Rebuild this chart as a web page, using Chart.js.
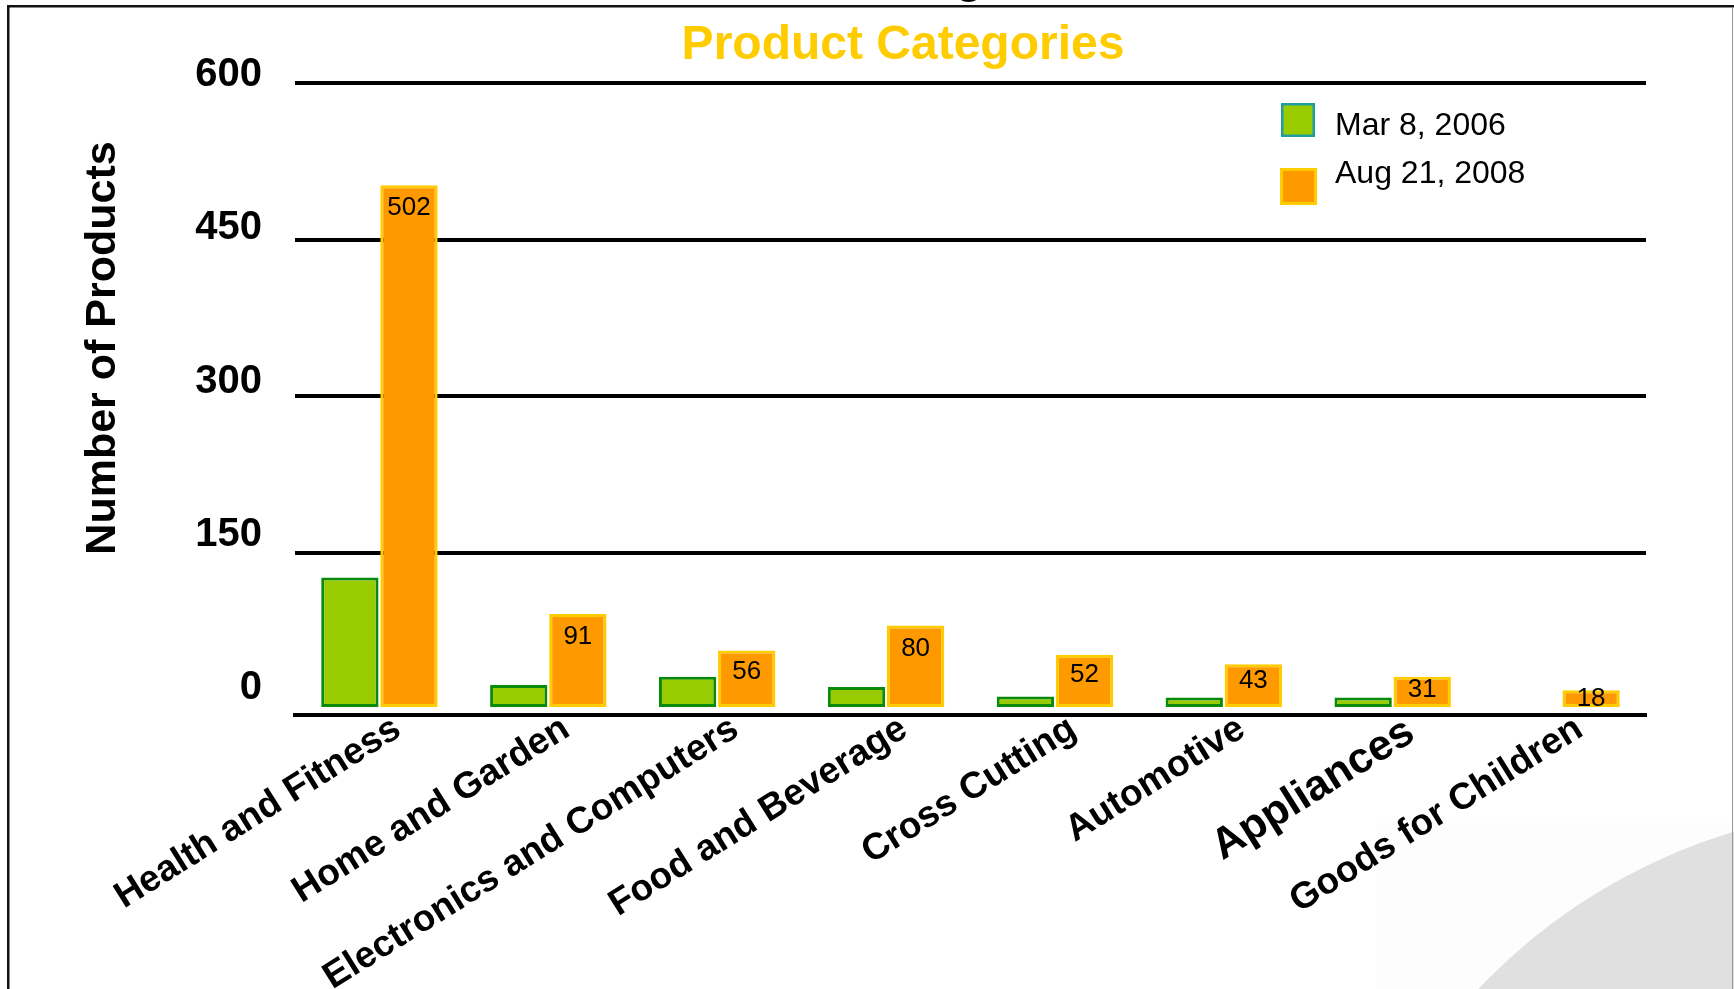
<!DOCTYPE html>
<html lang="en">
<head>
    <meta charset="UTF-8">
    <title>Product Categories</title>
    <script src="https://cdn.jsdelivr.net/npm/chart.js"></script>
    <style>
        html, body { margin: 0; padding: 0; background: #fff; }
        #chart { display: block; }
    </style>
</head>
<body>
    <canvas id="chart" width="1734" height="989"></canvas>

    <script>
        // data
        const categories = ['Health and Fitness', 'Home and Garden', 'Electronics and Computers',
            'Food and Beverage', 'Cross Cutting', 'Automotive', 'Appliances', 'Goods for Children'];
        const seriesLabels = ['Mar 8, 2006', 'Aug 21, 2008'];
        const mar2006 = [126, 23, 31, 21, 12, 11, 11, null];
        const aug2008 = [502, 91, 56, 80, 52, 43, 31, 18];
        const yTicks = [0, 150, 300, 450, 600];

        const chartTitle = 'Product Categories';
        const yTitle = 'Number of Products';

        const FONT = "'Liberation Sans', Arial, sans-serif";
        const legendBorders = ['#1E9E9E', '#FFCC00'];

        // slide background: frame, faint panel and the grey arc in the corner
        const backdrop = {
            id: 'backdrop',
            beforeDraw(chart) {
                const ctx = chart.ctx;
                const w = chart.width, h = chart.height;
                ctx.save();
                ctx.fillStyle = '#fff';
                ctx.fillRect(0, 0, w, h);
                ctx.fillStyle = '#fdfdfd';
                ctx.fillRect(1377, 823, w - 1377, h - 823);
                ctx.fillStyle = '#e0e0e0';
                ctx.beginPath();
                ctx.arc(1898, 1385, 577, 0, Math.PI * 2);
                ctx.fill();
                // frame
                ctx.fillStyle = '#111';
                ctx.fillRect(7, 5, w - 7, 2.5);
                ctx.fillRect(7, 5, 2.5, h - 5);
                ctx.fillStyle = '#999';
                ctx.fillRect(w - 2, 7, 1, h - 7);
                // tail of the slide heading cut off above
                ctx.fillStyle = '#000';
                ctx.font = 'bold 46px ' + FONT;
                ctx.textBaseline = 'alphabetic';
                ctx.fillText('g', 955, -8);
                ctx.restore();
            }
        };

        // chart heading and y axis title
        const titles = {
            id: 'titles',
            afterDraw(chart) {
                const ctx = chart.ctx;
                ctx.save();
                ctx.textAlign = 'center';
                ctx.textBaseline = 'alphabetic';
                ctx.fillStyle = '#FFCC00';
                ctx.font = 'bold 48px ' + FONT;
                ctx.fillText(chartTitle, 903, 59);
                ctx.translate(103, 348);
                ctx.rotate(-Math.PI / 2);
                ctx.textBaseline = 'middle';
                ctx.fillStyle = '#000';
                ctx.font = 'bold 43px ' + FONT;
                ctx.fillText(yTitle, 0, 0);
                ctx.restore();
            }
        };

        // values inside the top of the orange bars
        const barValues = {
            id: 'barValues',
            afterDatasetsDraw(chart) {
                const ctx = chart.ctx;
                const meta = chart.getDatasetMeta(1);
                ctx.save();
                ctx.font = '26px ' + FONT;
                ctx.fillStyle = '#000';
                ctx.textAlign = 'center';
                ctx.textBaseline = 'middle';
                meta.data.forEach((bar, i) => {
                    const v = chart.data.datasets[1].data[i];
                    if (v == null) return;
                    const h = bar.base - bar.y;
                    ctx.fillText(String(v), bar.x, bar.y + Math.min(23, 0.33 * h + 3));
                });
                ctx.restore();
            }
        };

        // legend in the upper right of the plot
        const boxLegend = {
            id: 'boxLegend',
            afterDraw(chart) {
                const ctx = chart.ctx;
                const boxes = [
                    { x: 1281, y: 103, s: 34, lw: 2.5, base: 135 },
                    { x: 1280, y: 168, s: 37, lw: 3, base: 183 }
                ];
                ctx.save();
                chart.data.datasets.forEach((ds, i) => {
                    const b = boxes[i];
                    ctx.fillStyle = legendBorders[i];
                    ctx.fillRect(b.x, b.y, b.s, b.s);
                    ctx.fillStyle = ds.backgroundColor;
                    ctx.fillRect(b.x + b.lw, b.y + b.lw, b.s - 2 * b.lw, b.s - 2 * b.lw);
                    ctx.fillStyle = '#000';
                    ctx.font = '32px ' + FONT;
                    ctx.textBaseline = 'alphabetic';
                    ctx.fillText(ds.label, 1335, b.base);
                });
                ctx.restore();
            }
        };

        const ctx = document.getElementById('chart').getContext('2d');
        new Chart(ctx, {
            type: 'bar',
            data: {
                labels: categories,
                datasets: [{
                    label: seriesLabels[0],
                    data: mar2006,
                    backgroundColor: '#99CC00',
                    borderColor: '#0A8A0A',
                    borderWidth: 3,
                    borderSkipped: false
                }, {
                    label: seriesLabels[1],
                    data: aug2008,
                    backgroundColor: '#FF9900',
                    borderColor: '#FFCC00',
                    borderWidth: 3,
                    borderSkipped: false
                }]
            },
            options: {
                responsive: false,
                animation: false,
                devicePixelRatio: 1,
                layout: { padding: { left: 0, right: 88, top: 83, bottom: 0 } },
                datasets: {
                    bar: { categoryPercentage: 0.7, barPercentage: 0.97 }
                },
                plugins: {
                    legend: { display: false },
                    tooltip: { enabled: false },
                    title: { display: false }
                },
                scales: {
                    x: {
                        z: 1,
                        grid: { display: false, drawTicks: false },
                        border: { display: true, color: '#000', width: 4 },
                        ticks: {
                            autoSkip: false,
                            minRotation: 32,
                            maxRotation: 32,
                            padding: -8,
                            labelOffset: 18,
                            color: '#000',
                            font: (c) => ({
                                family: FONT,
                                weight: 'bold',
                                size: categories[c.index] === 'Appliances' ? 43 : 37
                            })
                        },
                        afterFit(scale) { scale.height = 989 - 715; }
                    },
                    // value axis: carries the bars and the grid lines
                    y: {
                        position: 'left',
                        min: -5.75,
                        max: yTicks[yTicks.length - 1],
                        afterBuildTicks(scale) {
                            scale.ticks = yTicks.map(v => ({ value: v }));
                        },
                        grid: {
                            color: (c) => (c.tick && c.tick.value === 0 ? 'rgba(0,0,0,0)' : '#000'),
                            lineWidth: 4,
                            drawTicks: false
                        },
                        border: { display: false },
                        ticks: { display: false },
                        afterFit(scale) { scale.width = 0; }
                    },
                    // label axis: the slide's tick labels sit a little above their grid lines
                    yLabels: {
                        position: 'left',
                        min: -26.4,
                        max: 592.2,
                        afterBuildTicks(scale) {
                            scale.ticks = yTicks.map(v => ({ value: v }));
                        },
                        grid: { display: false, drawTicks: false },
                        border: { display: false },
                        ticks: {
                            autoSkip: false,
                            padding: 33,
                            color: '#000',
                            font: { family: FONT, size: 40, weight: 'bold' }
                        },
                        afterFit(scale) { scale.width = 295; }
                    }
                }
            },
            plugins: [backdrop, barValues, boxLegend, titles]
        });
    </script>
</body>
</html>
